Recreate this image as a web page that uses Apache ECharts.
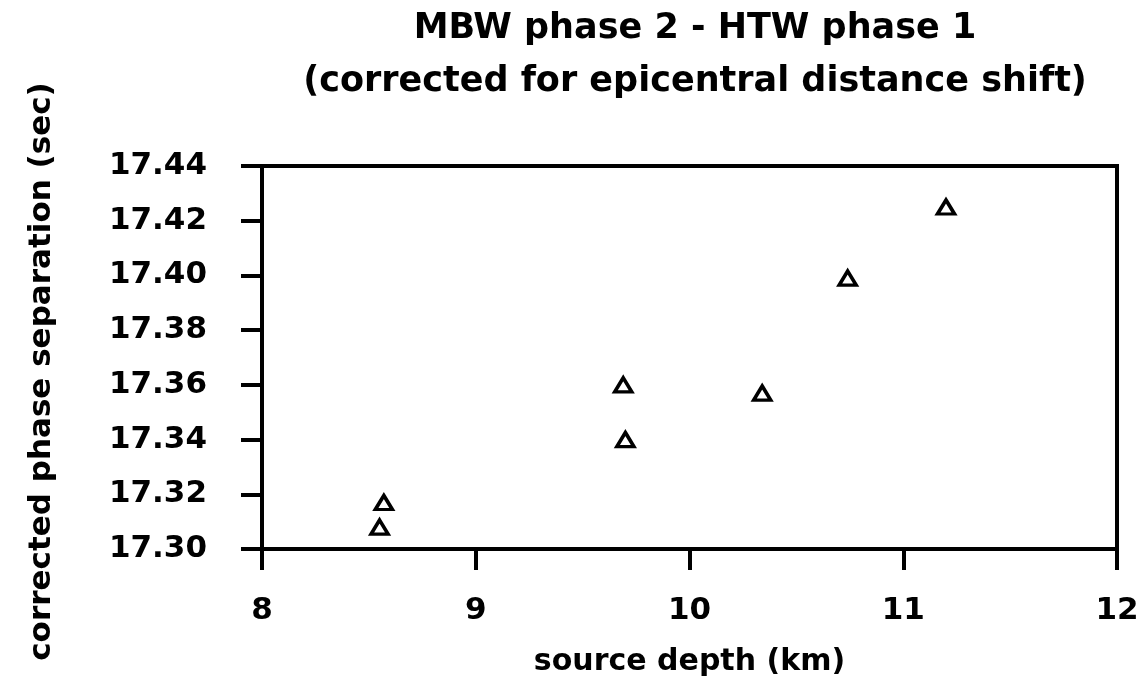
<!DOCTYPE html>
<html>
<head>
<meta charset="utf-8">
<script src="https://cdn.jsdelivr.net/npm/echarts@6/dist/echarts.min.js"></script>
<style>html,body{margin:0;padding:0;background:#fff}#c{width:1142px;height:693px}</style>
</head>
<body>
<div id="c"></div>
<script>
var titleLines = ['MBW phase 2 - HTW phase 1', '(corrected for epicentral distance shift)'];
var xName = 'source depth (km)';
var yName = 'corrected phase separation (sec)';
var sourceDepth = [8.55, 8.57, 9.69, 9.70, 10.34, 10.74, 11.20];
var phaseSeparation = [17.308, 17.317, 17.360, 17.340, 17.357, 17.399, 17.425];
var xTicks = [8, 9, 10, 11, 12];
var yTicks = ['17.30', '17.32', '17.34', '17.36', '17.38', '17.40', '17.42', '17.44'];

var points = sourceDepth.map(function (x, i) { return [x, phaseSeparation[i]]; });
var font = 'DejaVu Sans';
var chart = echarts.init(document.getElementById('c'), null, {renderer: 'canvas'});
chart.setOption({
  animation: false,
  backgroundColor: '#fff',
  title: [
    {text: titleLines[0], left: 690, textAlign: 'center', top: 6, textStyle: {fontFamily: font, fontWeight: 'bold', fontSize: 35, color: '#000'}},
    {text: titleLines[1], left: 690, textAlign: 'center', top: 59, textStyle: {fontFamily: font, fontWeight: 'bold', fontSize: 35, color: '#000'}}
  ],
  grid: {left: 262, right: 25, top: 166, bottom: 144, show: true, borderColor: '#000', borderWidth: 4, containLabel: false},
  xAxis: {
    type: 'value', min: xTicks[0], max: xTicks[xTicks.length - 1], interval: 1,
    name: xName, nameLocation: 'middle', nameGap: 98,
    nameTextStyle: {fontFamily: font, fontWeight: 'bold', fontSize: 30, color: '#000'},
    axisLine: {show: true, lineStyle: {color: '#000', width: 4}},
    axisTick: {show: true, inside: false, length: 21, lineStyle: {color: '#000', width: 4}},
    axisLabel: {margin: 46, fontFamily: font, fontWeight: 'bold', fontSize: 31, color: '#000'},
    splitLine: {show: false}
  },
  yAxis: {
    type: 'value', min: 17.30, max: 17.44, interval: 0.02,
    name: yName, nameLocation: 'middle', nameGap: 205,
    nameTextStyle: {fontFamily: font, fontWeight: 'bold', fontSize: 31, color: '#000', padding: [0, 28, 0, 0]},
    axisLine: {show: true, lineStyle: {color: '#000', width: 4}},
    axisTick: {show: true, inside: false, length: 21, lineStyle: {color: '#000', width: 4}},
    axisLabel: {margin: 55, fontFamily: font, fontWeight: 'bold', fontSize: 31, color: '#000',
      formatter: function (v) { return v.toFixed(2); }},
    splitLine: {show: false}
  },
  series: [{
    type: 'scatter', data: points, symbol: 'triangle', symbolSize: [17, 14],
    itemStyle: {color: '#fff', borderColor: '#000', borderWidth: 3.5, opacity: 1}
  }]
});
</script>
</body>
</html>
